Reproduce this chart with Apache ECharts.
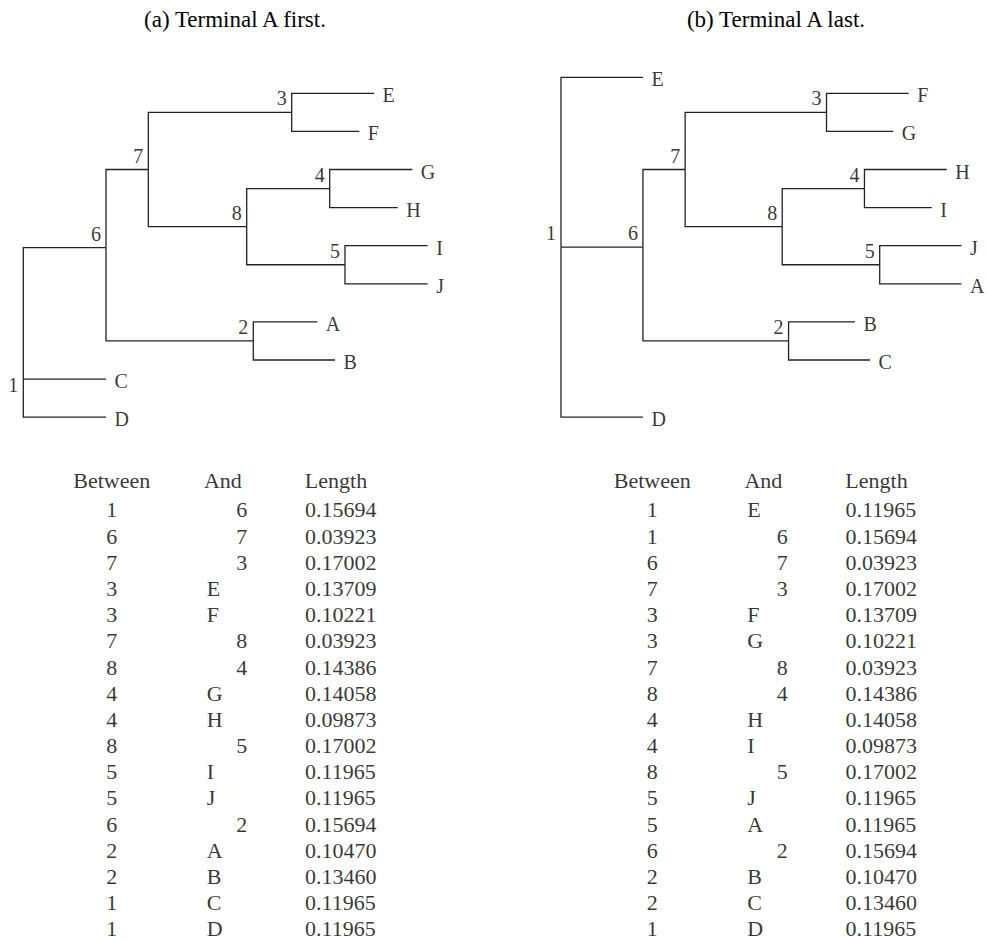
<!DOCTYPE html>
<html>
<head>
<meta charset="utf-8">
<script src="https://cdn.jsdelivr.net/npm/echarts@6/dist/echarts.min.js"></script>
<style>
  html, body { margin: 0; padding: 0; background: #ffffff; }
  #chart { width: 987px; height: 942px; }
</style>
</head>
<body>
<div id="chart"></div>
<script>
// Titles of the two rooted trees
const treeTitles = ['(a) Terminal A first.', '(b) Terminal A last.'];

// Tree (a): node names, parent of each node, horizontal depth and vertical row
const treeANodes  = ['1', '6', '7', '3', 'E', 'F', '8', '4', 'G', 'H', '5', 'I', 'J', '2', 'A', 'B', 'C', 'D'];
const treeAParent = [null, '1', '6', '7', '3', '3', '7', '8', '4', '4', '8', '5', '5', '6', '2', '2', '1', '1'];
const treeADepth  = [0, 82.7, 125, 268.4, 350.7, 336, 223.4, 306.4, 389, 374.4, 321.7, 404.4, 404.4, 230, 294, 311.7, 82.7, 82.7];
const treeARow    = [7.5, 4.05, 2, 0.5, 0, 1, 3.5, 2.5, 2, 3, 4.5, 4, 5, 6.5, 6, 7, 7.5, 8.5];

// Tree (b): same topology re-rooted, A placed last
const treeBNodes  = ['1', 'E', '6', '7', '3', 'F', 'G', '8', '4', 'H', 'I', '5', 'J', 'A', '2', 'B', 'C', 'D'];
const treeBParent = [null, '1', '1', '6', '7', '3', '3', '7', '8', '4', '4', '8', '5', '5', '6', '2', '2', '1'];
const treeBDepth  = [0, 82.7, 82.7, 125.3, 268, 351, 335.3, 223.3, 306.3, 389.3, 374.3, 321.7, 404.3, 404.3, 229.7, 296.7, 312, 82.7];
const treeBRow    = [4.04, -0.42, 4.04, 2, 0.5, 0, 1, 3.5, 2.5, 2, 3, 4.5, 4, 5, 6.5, 6, 7, 8.5];

// Branch tables
const tableHeaders = ['Between', 'And', 'Length'];

const tableABetween = ['1', '6', '7', '3', '3', '7', '8', '4', '4', '8', '5', '5', '6', '2', '2', '1', '1'];
const tableAAnd     = ['6', '7', '3', 'E', 'F', '8', '4', 'G', 'H', '5', 'I', 'J', '2', 'A', 'B', 'C', 'D'];
const tableALength  = [0.15694, 0.03923, 0.17002, 0.13709, 0.10221, 0.03923, 0.14386, 0.14058, 0.09873, 0.17002, 0.11965, 0.11965, 0.15694, 0.10470, 0.13460, 0.11965, 0.11965];

const tableBBetween = ['1', '1', '6', '7', '3', '3', '7', '8', '4', '4', '8', '5', '5', '6', '2', '2', '1'];
const tableBAnd     = ['E', '6', '7', '3', 'F', 'G', '8', '4', 'H', 'I', '5', 'J', 'A', '2', 'B', 'C', 'D'];
const tableBLength  = [0.11965, 0.15694, 0.03923, 0.17002, 0.13709, 0.10221, 0.03923, 0.14386, 0.14058, 0.09873, 0.17002, 0.11965, 0.11965, 0.15694, 0.10470, 0.13460, 0.11965];

// ---- styling ----
const FONT = '"Liberation Serif", "Times New Roman", Times, serif';
const INK = '#000000';
const LINE = '#222222';
const TREE_FONT = 20;
const TABLE_FONT = 22;
const TITLE_FONT = 23;
const HEADER_ROW = -1.12;

const trees = [
  { nodes: treeANodes, parent: treeAParent, depth: treeADepth, row: treeARow, rootLabelBeside: true },
  { nodes: treeBNodes, parent: treeBParent, depth: treeBDepth, row: treeBRow, rootLabelBeside: false }
];
const tables = [
  { between: tableABetween, and: tableAAnd, length: tableALength },
  { between: tableBBetween, and: tableBAnd, length: tableBLength }
];

// Grids: two tree panels on top, two tables below
const grid = [
  { left: 23.3, top: 55.2, width: 430, height: 381 },
  { left: 561,  top: 55.2, width: 430, height: 381 },
  { left: 111.7, top: 457.6, width: 230.3, height: 484.7 },
  { left: 652.2, top: 457.6, width: 230.3, height: 484.7 }
];

const xAxis = [
  { gridIndex: 0, type: 'value', min: 0, max: 430, show: false },
  { gridIndex: 1, type: 'value', min: 0, max: 430, show: false },
  { gridIndex: 2, type: 'category', data: tableHeaders, boundaryGap: false, show: false },
  { gridIndex: 3, type: 'category', data: tableHeaders, boundaryGap: false, show: false }
];
const yAxis = [
  { gridIndex: 0, type: 'value', min: -1, max: 9, inverse: true, show: false },
  { gridIndex: 1, type: 'value', min: -1, max: 9, inverse: true, show: false },
  { gridIndex: 2, type: 'value', min: -2, max: 16.5, inverse: true, show: false },
  { gridIndex: 3, type: 'value', min: -2, max: 16.5, inverse: true, show: false }
];

// Each branch is drawn as an elbow: down the parent's vertical, then across to the child
function branchData(t) {
  const index = {};
  t.nodes.forEach((n, i) => { index[n] = i; });
  const out = [];
  t.nodes.forEach((n, i) => {
    if (t.parent[i] === null) return;
    const p = index[t.parent[i]];
    out.push([t.depth[p], t.row[p], t.depth[i], t.row[i]]);
  });
  return out;
}

function nodeLabelData(t) {
  const parents = new Set(t.parent.filter(p => p !== null));
  return t.nodes.map((n, i) => {
    const isLeaf = !parents.has(n);
    const isRoot = t.parent[i] === null;
    let label;
    if (isLeaf) {
      label = { position: 'right', distance: 8, align: 'left', verticalAlign: 'middle', offset: [0, 2] };
    } else if (isRoot && t.rootLabelBeside) {
      label = { position: 'inside', align: 'center', verticalAlign: 'middle', offset: [-10, 6] };
    } else {
      label = { position: 'inside', align: 'center', verticalAlign: 'middle', offset: [-10, -14] };
    }
    return { name: n, value: [t.depth[i], t.row[i]], label };
  });
}

function tableCellData(tb) {
  const cells = [];
  // header row
  cells.push({ value: ['Between', HEADER_ROW], name: 'Between', label: { align: 'center', offset: [0, 0] } });
  cells.push({ value: ['And', HEADER_ROW], name: 'And', label: { align: 'left', offset: [-22.9, 0] } });
  cells.push({ value: ['Length', HEADER_ROW], name: 'Length', label: { align: 'center', offset: [-6, 0] } });
  tb.between.forEach((b, r) => {
    cells.push({ value: ['Between', r], name: b, label: { align: 'center', offset: [0, 0] } });
    const a = tb.and[r];
    const isNode = /^[0-9]+$/.test(a);
    cells.push({
      value: ['And', r], name: a,
      label: isNode ? { align: 'center', offset: [14.8, 0] } : { align: 'left', offset: [-20.2, 0] }
    });
    cells.push({ value: ['Length', r], name: tb.length[r].toFixed(5), label: { align: 'left', offset: [-37, 0] } });
  });
  return cells;
}

const series = [];
trees.forEach((t, k) => {
  series.push({
    type: 'custom',
    xAxisIndex: k, yAxisIndex: k,
    silent: true,
    clip: false,
    data: branchData(t),
    renderItem: (params, api) => {
      const p0 = api.coord([api.value(0), api.value(1)]);
      const p1 = api.coord([api.value(0), api.value(3)]);
      const p2 = api.coord([api.value(2), api.value(3)]);
      return {
        type: 'polyline',
        shape: { points: [p0, p1, p2] },
        style: { stroke: LINE, lineWidth: 1.3, fill: null }
      };
    }
  });
  series.push({
    type: 'scatter',
    xAxisIndex: k, yAxisIndex: k,
    silent: true,
    symbolSize: 1,
    itemStyle: { color: 'transparent' },
    label: { show: true, formatter: '{b}', fontSize: TREE_FONT, fontFamily: FONT, color: INK },
    data: nodeLabelData(t)
  });
});
tables.forEach((tb, k) => {
  series.push({
    type: 'scatter',
    xAxisIndex: 2 + k, yAxisIndex: 2 + k,
    silent: true,
    symbolSize: 1,
    itemStyle: { color: 'transparent' },
    label: {
      show: true, position: 'inside', verticalAlign: 'middle', formatter: '{b}',
      fontSize: TABLE_FONT, fontFamily: FONT, color: INK
    },
    data: tableCellData(tb)
  });
});

const chart = echarts.init(document.getElementById('chart'), null, { renderer: 'svg' });
chart.setOption({
  backgroundColor: '#ffffff',
  animation: false,
  title: [
    { text: treeTitles[0], left: 230, top: 3, textAlign: 'center',
      textStyle: { fontFamily: FONT, fontSize: TITLE_FONT, fontWeight: 'normal', color: INK } },
    { text: treeTitles[1], left: 771, top: 3, textAlign: 'center',
      textStyle: { fontFamily: FONT, fontSize: TITLE_FONT, fontWeight: 'normal', color: INK } }
  ],
  grid, xAxis, yAxis, series
});
</script>
</body>
</html>
